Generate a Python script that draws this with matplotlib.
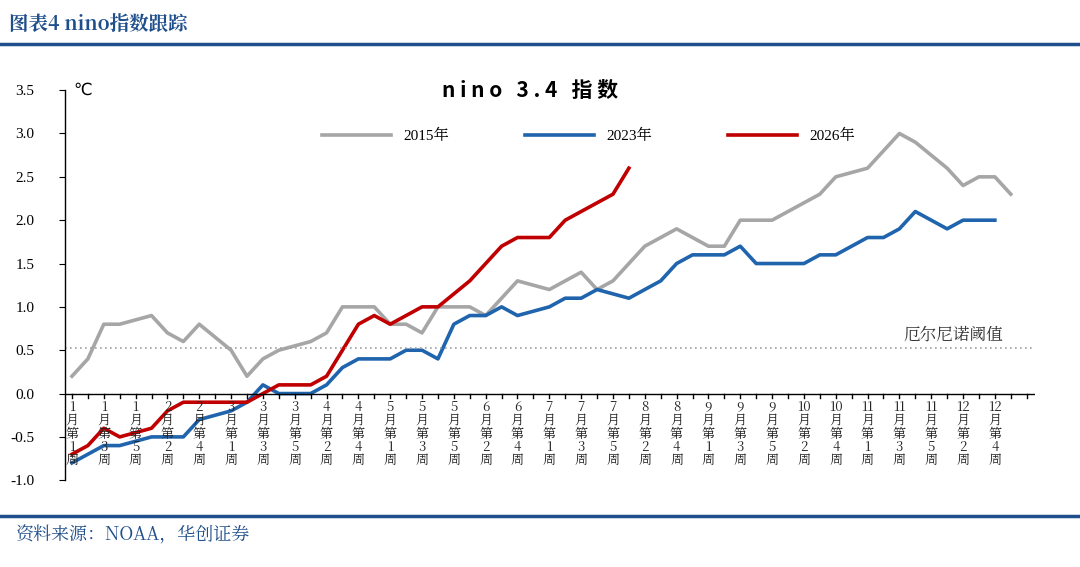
import matplotlib
matplotlib.use("Agg")
import matplotlib.pyplot as plt
from matplotlib.lines import Line2D

plt.rcParams['font.family'] = ['Noto Sans CJK SC', 'DejaVu Sans']

tick_labels = ["1月第1周","1月第3周","1月第5周","2月第2周","2月第4周","3月第1周","3月第3周","3月第5周",
               "4月第2周","4月第4周","5月第1周","5月第3周","5月第5周","6月第2周","6月第4周","7月第1周",
               "7月第3周","7月第5周","8月第2周","8月第4周","9月第1周","9月第3周","9月第5周","10月第2周",
               "10月第4周","11月第1周","11月第3周","11月第5周","12月第2周","12月第4周"]
y2015 = [0.2,0.4,0.8,0.8,0.85,0.9,0.7,0.6,0.8,0.65,0.5,0.2,0.4,0.5,0.55,0.6,0.7,1.0,1.0,1.0,
         0.8,0.8,0.7,1.0,1.0,1.0,0.9,1.1,1.3,
         1.25,1.2,1.3,1.4,1.2,1.3,1.5,1.7,1.8,1.9,1.8,1.7,1.7,2.0,2.0,2.0,2.1,2.2,2.3,2.5,2.55,
         2.6,2.8,3.0,2.9,2.75,2.6,2.4,2.5,2.5,2.3]
y2023 = [-0.8,-0.7,-0.6,-0.6,-0.55,-0.5,-0.5,-0.5,-0.3,-0.25,-0.2,-0.1,0.1,0.0,0.0,0.0,0.1,0.3,0.4,0.4,
         0.4,0.5,0.5,0.4,0.8,0.9,0.9,1.0,0.9,0.95,1.0,1.1,1.1,1.2,1.15,1.1,1.2,1.3,1.5,1.6,
         1.6,1.6,1.7,1.5,1.5,1.5,1.5,1.6,1.6,1.7,1.8,1.8,1.9,2.1,2.0,1.9,2.0,2.0,2.0]
y2026 = [-0.7,-0.6,-0.4,-0.5,-0.45,-0.4,-0.2,-0.1,-0.1,-0.1,-0.1,-0.1,0.0,0.1,0.1,0.1,0.2,0.5,0.8,0.9,
         0.8,0.9,1.0,1.0,1.15,1.3,1.5,1.7,1.8,1.8,1.8,2.0,2.1,2.2,2.3,2.6]
threshold = 0.53

fig = plt.figure(figsize=(10.8, 5.67), dpi=100)
ax = fig.add_axes([0.06, 0.153, 0.898, 0.688])

serif = 'Liberation Serif'
cjk_serif = ['Noto Serif CJK SC', 'Noto Sans CJK SC', 'DejaVu Sans']
ax.plot(range(len(y2015)), y2015, color='#a6a6a6', lw=2.6, label='2015年')
ax.plot(range(len(y2023)), y2023, color='#1f64ad', lw=2.6, label='2023年')
ax.plot(range(len(y2026)), y2026, color='#c00000', lw=2.6, label='2026年')
ax.axhline(threshold, color='#a0a0a0', lw=1.2, ls=(0, (1, 2)))
ax.axhline(0, color='black', lw=1.0)

ax.set_xlim(-0.45, 60.5)
ax.set_ylim(-1.0, 3.5)
for s in ['top', 'right', 'bottom']:
    ax.spines[s].set_visible(False)
ax.spines['left'].set_linewidth(1.0)
yt = [-1.0,-0.5,0,0.5,1.0,1.5,2.0,2.5,3.0,3.5]
ax.set_yticks(yt)
ax.set_yticklabels(['%.1f' % v for v in yt], fontfamily=serif, fontsize=11)
ax.tick_params(axis='y', length=4, direction='out', pad=18)
ax.set_xticks([])
for i in range(61):
    ax.plot([i, i], [0, -0.05], color='black', lw=1.0, clip_on=False)
for k, lab in enumerate(tick_labels):
    m = lab.index('月')
    w = lab.index('第')
    stacked = "\n".join([lab[:m], '月', '第', lab[w+1:-1], '周'])
    ax.text(2*k, -0.08, stacked, ha='center', va='top', fontsize=9.5,
            linespacing=0.95, color='#222222', fontfamily=cjk_serif)

ax.text(0.1, 3.5, '℃', fontsize=12, va='center', ha='left', fontfamily=['DejaVu Sans'])
ax.text(58.5, 0.68, '厄尔尼诺阈值', ha='right', va='center', fontsize=12, color='#333333',
        fontfamily=cjk_serif)
ax.text(28.8, 3.5, 'n i n o   3 . 4   指 数', ha='center', va='center', fontsize=15, fontweight='bold')

leg = ax.legend(loc='upper center', bbox_to_anchor=(0.54, 0.935), ncol=3, frameon=False,
                handlelength=4.5, columnspacing=5, prop={'family': serif, 'size': 11})
for t in leg.get_texts():
    t.set_fontfamily([serif, 'Noto Serif CJK SC', 'Noto Sans CJK SC'])

fig.text(0.008, 0.955, '图表4 nino指数跟踪', fontsize=14, fontweight='bold', color='#1f4e8c',
         va='center', fontfamily=cjk_serif)
fig.add_artist(Line2D([0, 1], [0.922, 0.922], color='#1f4e8c', lw=2.5))
fig.add_artist(Line2D([0, 1], [0.090, 0.090], color='#1f4e8c', lw=2.5))
fig.text(0.015, 0.055, '资料来源：NOAA，华创证券', fontsize=13, style='italic', color='#1f4e8c',
         va='center', fontfamily=cjk_serif)

fig.savefig('out.png', dpi=100)
